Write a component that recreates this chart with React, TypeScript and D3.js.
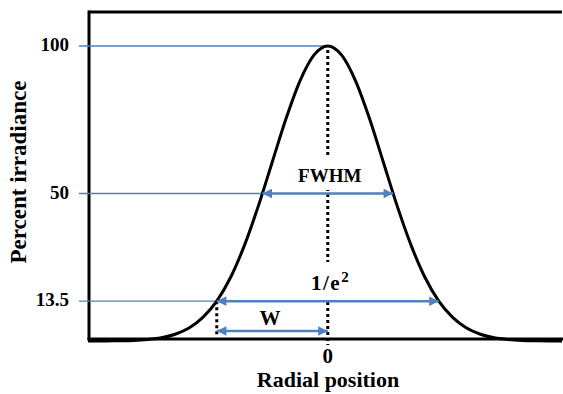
import React from "react"
import {scaleLinear, line, curveMonotoneX} from "d3"

// profile (radial position in units of w, percent irradiance)
const radial = [-2.16, -2, -1.875, -1.75, -1.625, -1.5, -1.375, -1.25, -1.125, -1, -0.875, -0.75, -0.625, -0.5, -0.375, -0.25, -0.125,
  0, 0.125, 0.25, 0.375, 0.5, 0.625, 0.75, 0.875, 1, 1.125, 1.25, 1.375, 1.5, 1.625, 1.75, 1.875, 2, 2.11]
const irradiance = [0, 0.03, 0.09, 0.2, 0.5, 1.1, 2.3, 4.4, 8, 13.5, 21.6, 32.5, 45.8, 60.7, 75.5, 88.2, 96.9,
  100, 96.9, 88.2, 75.5, 60.7, 45.8, 32.5, 21.6, 13.5, 8, 4.4, 2.3, 1.1, 0.5, 0.2, 0.09, 0.03, 0]

const levels = [100, 50, 13.5]
const levelLabels = ["100", "50", "13.5"]
// where each level line meets the curve (left side)
const levelHits = [0, -0.589, -1]

const xTicks = [0]

const W = 563
const H = 394
const BLUE = "#4f81bd"
const txt = {fontFamily: "'Liberation Serif', 'Times New Roman', Times, serif", fontWeight: 700}

export default function App() {
  const x = scaleLinear().domain([-2.16, 2.11]).range([88, 562])
  const y = scaleLinear().domain([0, 100]).range([341, 46])

  const pts = radial.map((r, i) => [r, irradiance[i]])
  const path = line()
    .x(d => x(d[0]))
    .y(d => y(d[1]))
    .curve(curveMonotoneX)(pts)

  const yW = y(3.4)

  return (
    <svg width={W} height={H} style={{position: "absolute", left: 0, top: 0, background: "#fff"}}>
      <defs>
        <marker id="ah" viewBox="0 0 10 10" refX="10" refY="5" markerWidth="4.2" markerHeight="4"
          orient="auto-start-reverse" markerUnits="strokeWidth">
          <path d="M0,0 L10,5 L0,10 z" fill={BLUE}/>
        </marker>
      </defs>

      {/* frame */}
      <line x1={89} x2={562} y1={12} y2={12} stroke="#000" strokeWidth={3}/>
      <line x1={89} x2={89} y1={10.5} y2={340.5} stroke="#000" strokeWidth={3}/>
      <line x1={87.5} x2={563} y1={339} y2={339} stroke="#000" strokeWidth={3}/>

      {/* level guide lines */}
      {levels.map((v, i) => (
        <g key={v}>
          <line x1={79} x2={x(levelHits[i])} y1={y(v)} y2={y(v)} stroke={BLUE} strokeWidth={1.3}/>
          <text x={69} y={y(v) + 5} textAnchor="end" fontSize={19} style={txt}>{levelLabels[i]}</text>
        </g>
      ))}

      {/* dotted verticals */}
      <line x1={x(0)} x2={x(0)} y1={y(100) + 4} y2={345} stroke="#000" strokeWidth={3} strokeDasharray="3,3"/>
      <line x1={x(-1)} x2={x(-1)} y1={y(13.5)} y2={335} stroke="#000" strokeWidth={3} strokeDasharray="3,3"/>

      {/* curve */}
      <path d={path} fill="none" stroke="#000" strokeWidth={3}/>

      {/* text boxes (white fill hides the dotted line) */}
      <rect x={292} y={157} width={74} height={33} fill="#fff"/>
      <text x={x(0) + 2} y={182} textAnchor="middle" fontSize={19} style={txt}>FWHM</text>
      <rect x={304} y={262} width={62} height={38} fill="#fff"/>
      <text x={311} y={290} fontSize={21} letterSpacing={1.5} style={txt}>1/e<tspan fontSize={15} dy={-8}>2</tspan></text>

      {/* width arrows */}
      <line x1={x(-0.589)} x2={x(0.589)} y1={y(50)} y2={y(50)} stroke={BLUE} strokeWidth={2.4}
        markerStart="url(#ah)" markerEnd="url(#ah)"/>
      <line x1={x(-1)} x2={x(1)} y1={y(13.5)} y2={y(13.5)} stroke={BLUE} strokeWidth={2.4}
        markerStart="url(#ah)" markerEnd="url(#ah)"/>
      <line x1={x(-1)} x2={x(0)} y1={yW} y2={yW} stroke={BLUE} strokeWidth={2.4}
        markerStart="url(#ah)" markerEnd="url(#ah)"/>

      <text x={270} y={325} textAnchor="middle" fontSize={21} style={txt}>W</text>

      {/* x axis */}
      {xTicks.map(t => (
        <text key={t} x={x(t)} y={363} textAnchor="middle" fontSize={21} style={txt}>{t}</text>
      ))}
      <text x={328} y={387} textAnchor="middle" fontSize={22} style={txt}>Radial position</text>
      <text transform="translate(26,172) rotate(-90)" textAnchor="middle" fontSize={23} style={txt}>Percent irradiance</text>
    </svg>
  )
}
